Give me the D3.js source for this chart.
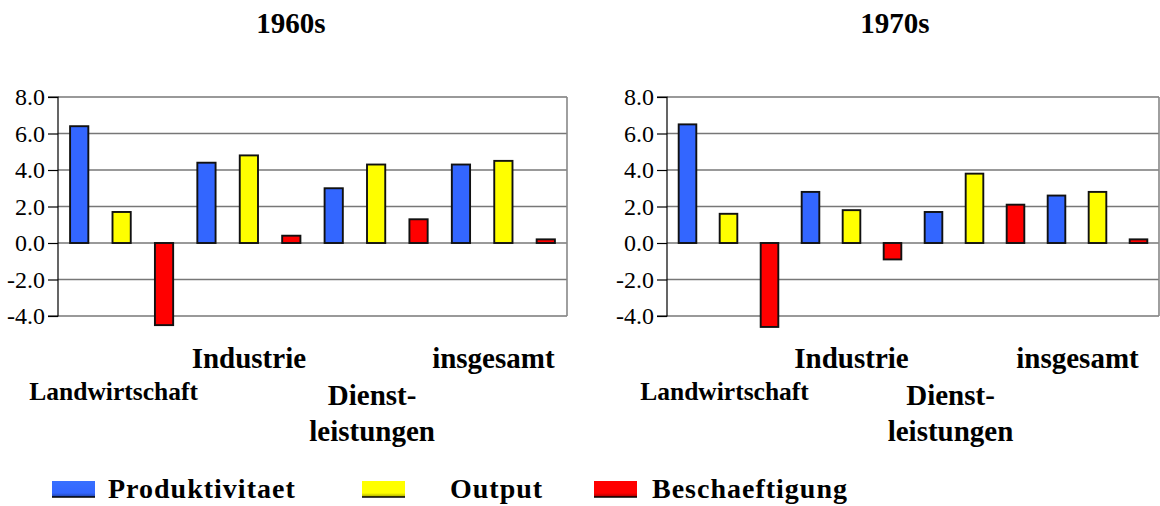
<!DOCTYPE html>
<html><head><meta charset="utf-8">
<script src="https://cdn.jsdelivr.net/npm/d3@7"></script>
<style>
body{margin:0;background:#fff}
svg{display:block}
text{font-family:"Liberation Serif","Times New Roman",Times,serif;fill:#000}
</style>
</head><body>
<svg id="chart" width="1160" height="506"></svg>
<script>
// ---- data ----
const categories = ["Landwirtschaft", "Industrie", "Dienstleistungen", "insgesamt"];
const categoryLabels = [["Landwirtschaft"], ["Industrie"], ["Dienst-", "leistungen"], ["insgesamt"]];
const seriesNames = ["Produktivitaet", "Output", "Beschaeftigung"];
const decades = ["1960s", "1970s"];
const prod1960 = [6.4, 4.4, 3.0, 4.3];
const output1960 = [1.7, 4.8, 4.3, 4.5];
const empl1960 = [-4.5, 0.4, 1.3, 0.2];
const prod1970 = [6.5, 2.8, 1.7, 2.6];
const output1970 = [1.6, 1.8, 3.8, 2.8];
const empl1970 = [-4.6, -0.9, 2.1, 0.2];
const yTicks = [-4, -2, 0, 2, 4, 6, 8];
const yTickLabels = ["-4.0", "-2.0", "0.0", "2.0", "4.0", "6.0", "8.0"];

// ---- styles / layout ----
const seriesColors = ["#3366ff", "#ffff00", "#ff0000"];
const panels = [
  {title: decades[0], values: [prod1960, output1960, empl1960], x0: 58, x1: 567, titleX: 291,
   labelDx: [-8, 0, -4, -10]},
  {title: decades[1], values: [prod1970, output1970, empl1970], x0: 667, x1: 1159, titleX: 895,
   labelDx: [-4, 0, -24, -20]}
];
const labelStyle = [
  {size: 25.5, y: [400]},
  {size: 29, y: [368]},
  {size: 29, y: [405, 441]},
  {size: 29, y: [368]}
];
const legendLayout = [
  {sx: 52, tx: 108}, {sx: 362, tx: 450}, {sx: 594, tx: 652}
];

const svg = d3.select("#chart");
const y = d3.scaleLinear().domain([-4, 8]).range([316, 97]);

const defs = svg.append("defs");
seriesColors.forEach((c, i) => {
  const g = defs.append("linearGradient").attr("id", "lg" + i)
    .attr("x1", 0).attr("y1", 0).attr("x2", 0).attr("y2", 1);
  g.append("stop").attr("offset", "0%").attr("stop-color", d3.color(c).brighter(0.25));
  g.append("stop").attr("offset", "75%").attr("stop-color", c);
  g.append("stop").attr("offset", "100%").attr("stop-color", d3.color(c).darker(1.2));
});

panels.forEach(p => {
  const g = svg.append("g");
  const x = d3.scaleBand().domain(categories).range([p.x0, p.x1]);
  const xs = d3.scaleBand().domain(seriesNames).range([0, x.bandwidth()]);
  const bw = xs.bandwidth() * 0.43;

  g.append("text").attr("x", p.titleX).attr("y", 33).attr("text-anchor", "middle")
    .style("font-size", "29px").style("font-weight", "bold").text(p.title);

  g.append("g").selectAll("line").data(yTicks).join("line")
    .attr("x1", p.x0).attr("x2", p.x1)
    .attr("y1", d => y(d)).attr("y2", d => y(d))
    .attr("stroke", "#777").attr("stroke-width", 1.6);
  g.append("line").attr("x1", p.x1).attr("x2", p.x1).attr("y1", y(8)).attr("y2", y(-4))
    .attr("stroke", "#888").attr("stroke-width", 1.6);

  seriesNames.forEach((s, si) => {
    g.append("g").selectAll("rect").data(p.values[si]).join("rect")
      .attr("x", (d, i) => x(categories[i]) + xs(s) + (xs.bandwidth() - bw) / 2)
      .attr("width", bw)
      .attr("y", d => Math.min(y(d), y(0)))
      .attr("height", d => Math.abs(y(d) - y(0)))
      .attr("fill", seriesColors[si])
      .attr("stroke", "#111").attr("stroke-width", 1.9);
  });

  const axis = d3.axisLeft(y).tickValues(yTicks)
    .tickFormat((d, i) => yTickLabels[i]).tickSize(10).tickPadding(3);
  const ag = g.append("g").attr("transform", `translate(${p.x0},0)`).call(axis);
  ag.attr("font-family", null);
  ag.select(".domain").attr("stroke", "#000").attr("stroke-width", 1.2).attr("d", `M-10,${y(8)}H0V${y(-4)}H-10`);
  ag.selectAll(".tick line").attr("stroke", "#000").attr("stroke-width", 1.2);
  ag.selectAll(".tick text").style("font-size", "24px")
    .style("font-family", '"Liberation Serif","Times New Roman",serif').attr("fill", "#111");

  categories.forEach((c, ci) => {
    const st = labelStyle[ci];
    categoryLabels[ci].forEach((line, li) => {
      g.append("text")
        .attr("x", x(c) + x.bandwidth() / 2 + p.labelDx[ci])
        .attr("y", st.y[li])
        .attr("text-anchor", "middle")
        .style("font-size", st.size + "px").style("font-weight", "bold")
        .text(line);
    });
  });
});

const lg = svg.append("g");
seriesNames.forEach((s, i) => {
  const L = legendLayout[i];
  lg.append("rect").attr("x", L.sx).attr("y", 481).attr("width", 43).attr("height", 16)
    .attr("fill", `url(#lg${i})`);
  lg.append("line").attr("x1", L.sx).attr("x2", L.sx + 43).attr("y1", 497).attr("y2", 497)
    .attr("stroke", "#000").attr("stroke-width", 1.5);
  lg.append("text").attr("x", L.tx).attr("y", 498)
    .style("font-size", "28px").style("font-weight", "bold").style("letter-spacing", "1px")
    .text(s);
});
</script>
</body></html>
